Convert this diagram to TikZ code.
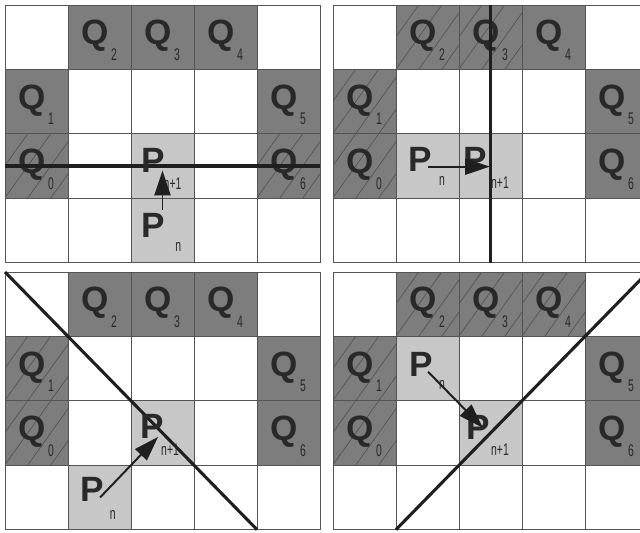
\documentclass[tikz,border=0pt]{standalone}
\usepackage{fontspec}
\setmainfont{Liberation Sans}
\usepackage{tikz}
\usetikzlibrary{arrows.meta}
\definecolor{cq}{gray}{0.49}
\definecolor{cp}{gray}{0.78}
\definecolor{chach}{gray}{0.33}
\definecolor{cgrille}{gray}{0.33}
\definecolor{ctrait}{gray}{0.12}
\definecolor{clettre}{gray}{0.16}

% fond commun des quatre cas : cases Q et P, hachures, grille, lettres Q
\newcommand{\plateau}[3]{%
  \foreach \i/\j in {0/2,0/1,1/0,2/0,3/0,4/1,4/2}
    \fill[cq] (\i,\j) rectangle ++(1,1);
  \foreach \i/\j in {#3}
    \fill[cp] (\i,\j) rectangle ++(1,1);
  \foreach \i/\j in {#2} {
    \begin{scope}
      \clip (\i,\j) rectangle ++(1,1);
      \foreach \k in {-1.1,-0.735,...,1.1}
        \draw[hachure] (\i+\k,\j+1) -- ++(0.73,-1);
    \end{scope}
  }
  \foreach \i in {0,...,5}
    \draw[grille] (\i,0) -- (\i,4);
  \foreach \j in {0,...,4}
    \draw[grille] (0,\j) -- (5,\j);
  \foreach \i/\j/\k in {0/2/0,0/1/1,1/0/2,2/0/3,3/0/4,4/1/5,4/2/6} {
    \node[lq] (#1q\k) at (\i+0.43,\j+0.48) {Q};
    \node[ind] (#1i\k) at (\i+0.73,\j+0.77) {\k};
  }
}

\begin{document}
\begin{tikzpicture}[
    hachure/.style={chach, line width=0.5pt},
    grille/.style={cgrille, line width=0.7pt},
    coupe/.style={ctrait, line width=2.2pt},
    fleche/.style={-{Triangle[length=0.62cm, width=0.4cm]}, ctrait, line width=1.4pt},
    lq/.style={font=\fontsize{25}{25}\selectfont\bfseries, clettre, inner sep=0pt},
    lp/.style={lq},
    ind/.style={font=\fontsize{12}{12}\selectfont, xscale=0.62, clettre, inner sep=0pt}]

  \useasboundingbox (0,0) rectangle (16,13.3);
  \clip (0,0) rectangle (16,13.3);

  % --- coupe horizontale ---
  \begin{scope}[shift={(0.125cm,13.175cm)}, x=1.575cm, y=-1.61cm]
    \plateau{a}{0/2,4/2}{2/2,2/3}
    \draw[coupe] (0,2.5) -- (5,2.5);
    \node[lp]  (apn)  at (2.36,3.42) {P};
    \node[ind] (apni) at (2.75,3.76) {n};
    \node[lp]  (aps)  at (2.35,2.42) {P};
    \node[ind] (apsi) at (2.66,2.77) {n+1};
    \coordinate (adep) at (2.5,3.18);
    \coordinate (aarr) at (2.5,2.57);
    \draw[fleche] (adep) -- (aarr);
  \end{scope}

  % --- coupe verticale ---
  \begin{scope}[shift={(8.325cm,13.175cm)}, x=1.575cm, y=-1.61cm]
    \plateau{b}{0/2,0/1,1/0,2/0}{1/2,2/2}
    \draw[coupe] (2.5,0) -- (2.5,4);
    \node[lp]  (bpn)  at (1.38,2.40) {P};
    \node[ind] (bpni) at (1.73,2.74) {n};
    \node[lp]  (bps)  at (2.25,2.39) {P};
    \node[ind] (bpsi) at (2.65,2.76) {n+1};
    \coordinate (bdep) at (1.51,2.51);
    \coordinate (barr) at (2.49,2.51);
    \draw[fleche] (bdep) -- (barr);
  \end{scope}

  % --- diagonale descendante ---
  \begin{scope}[shift={(0.125cm,6.5cm)}, x=1.575cm, y=-1.61cm]
    \plateau{c}{0/2,0/1}{1/3,2/2}
    \draw[coupe] (0,0) -- (4,4);
    \node[lp]  (cpn)  at (1.38,3.38) {P};
    \node[ind] (cpni) at (1.71,3.77) {n};
    \node[lp]  (cps)  at (2.33,2.40) {P};
    \node[ind] (cpsi) at (2.62,2.76) {n+1};
    \coordinate (cdep) at (1.51,3.50);
    \coordinate (carr) at (2.43,2.56);
    \draw[fleche] (cdep) -- (carr);
  \end{scope}

  % --- diagonale montante ---
  \begin{scope}[shift={(8.325cm,6.5cm)}, x=1.575cm, y=-1.61cm]
    \plateau{d}{0/2,0/1,1/0,2/0,3/0}{1/1,2/2}
    \draw[coupe] (1,4) -- (5,0);
    \node[lp]  (dpn)  at (1.40,1.43) {P};
    \node[ind] (dpni) at (1.73,1.75) {n};
    \node[lp]  (dps)  at (2.30,2.42) {P};
    \node[ind] (dpsi) at (2.65,2.76) {n+1};
    \coordinate (ddep) at (1.51,1.55);
    \coordinate (darr) at (2.38,2.42);
    \draw[fleche] (ddep) -- (darr);
  \end{scope}
\end{tikzpicture}
\end{document}
